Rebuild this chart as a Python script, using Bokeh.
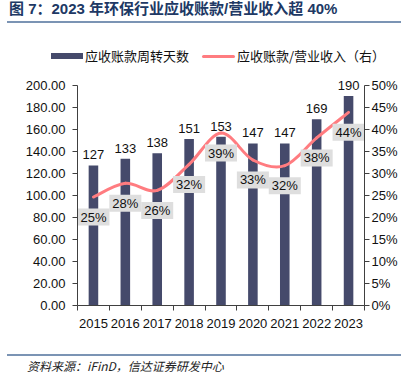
from bokeh.plotting import figure
from bokeh.layouts import column
from bokeh.models import Range1d, LinearAxis, FixedTicker, PrintfTickFormatter, Div
from bokeh.core.properties import value
from bokeh.embed import file_html
from bokeh.resources import INLINE

years = ["2015", "2016", "2017", "2018", "2019", "2020", "2021", "2022", "2023"]
days = [127, 133, 138, 151, 153, 147, 147, 169, 190]
ratio = [24.6, 27.7, 26.1, 32.0, 39.1, 33.0, 31.7, 38.0, 43.8]
left_ticks = [0, 20, 40, 60, 80, 100, 120, 140, 160, 180, 200]
right_ticks = [0, 5, 10, 15, 20, 25, 30, 35, 40, 45, 50]

title_text = "图 7：2023 年环保行业应收账款/营业收入超 40%"
source_text = "资料来源：iFinD，信达证券研发中心"
bar_name = "应收账款周转天数"
line_name = "应收账款/营业收入（右）"

BAR = "#454a6b"
LINE = "#ff7c80"
AX = "#404040"
RULE = "#7b94b4"
LAT = "Liberation Sans"
CJK = "Noto Sans CJK SC"

xs = list(range(len(years)))

# frame: 287 x 239 px; left axis 0..200 occupies the lower 220.5 px
FRAME_H = 239
left_end = 200 * FRAME_H / 220.5
right_end = 50 * FRAME_H / 220.5

p = figure(width=401, height=288, output_backend="svg", toolbar_location=None, title=None,
           x_range=Range1d(-0.5, len(years) - 0.5), y_range=Range1d(0, left_end),
           min_border_left=77, min_border_right=37, min_border_top=0, min_border_bottom=49)
p.extra_y_ranges = {"pct": Range1d(0, right_end)}
p.xgrid.visible = False
p.ygrid.visible = False
p.outline_line_color = None
p.background_fill_color = "white"
p.border_fill_color = "white"

# bars
bars = p.vbar(x=xs, top=days, width=0.3, fill_color=BAR, line_color=None)
p.text(x=xs, y=days, text=[str(d) for d in days], text_align="center", text_baseline="bottom",
       y_offset=-6, text_font=value(LAT), text_font_size="13px", text_color="#111111")

# smoothed line (Catmull-Rom through the data points)
n = len(ratio)
x0, y0, x1, y1, cx0, cy0, cx1, cy1 = [], [], [], [], [], [], [], []
for i in range(n - 1):
    pm = i - 1 if i > 0 else 0
    pp = i + 2 if i + 2 < n else n - 1
    x0.append(xs[i]); y0.append(ratio[i])
    x1.append(xs[i + 1]); y1.append(ratio[i + 1])
    cx0.append(xs[i] + (xs[i + 1] - xs[pm]) / 6.0)
    cy0.append(ratio[i] + (ratio[i + 1] - ratio[pm]) / 6.0)
    cx1.append(xs[i + 1] - (xs[pp] - xs[i]) / 6.0)
    cy1.append(ratio[i + 1] - (ratio[pp] - ratio[i]) / 6.0)
p.bezier(x0=x0, y0=y0, x1=x1, y1=y1, cx0=cx0, cy0=cy0, cx1=cx1, cy1=cy1,
         line_color=LINE, line_width=3, line_cap="round", y_range_name="pct")

# percent labels with gray boxes
p.text(x=xs, y=ratio, text=["%d%%" % round(r) for r in ratio], text_align="center",
       text_baseline="middle", y_offset=20, y_range_name="pct",
       text_font=value(LAT), text_font_size="13px", text_color="#111111",
       background_fill_color="#dedede", padding=(3, 1))

# axes
yl = p.yaxis[0]
yl.ticker = FixedTicker(ticks=left_ticks)
yl.formatter = PrintfTickFormatter(format="%.2f")
yl.major_label_standoff = 7
yl.bounds = (0, 200)

yr = LinearAxis(y_range_name="pct", ticker=FixedTicker(ticks=right_ticks),
                formatter=PrintfTickFormatter(format="%d%%"))
p.add_layout(yr, "right")
yr.major_label_standoff = 2
yr.bounds = (0, 50)

for ax in (yl, yr):
    ax.major_tick_out = 5
    ax.major_tick_in = 0
    ax.minor_tick_out = 0
    ax.minor_tick_in = 0

xa = p.xaxis[0]
xa.ticker = FixedTicker(ticks=xs, minor_ticks=[i - 0.5 for i in range(len(years) + 1)])
xa.major_label_overrides = {i: years[i] for i in xs}
xa.major_tick_out = 0
xa.major_tick_in = 0
xa.minor_tick_out = 5
xa.minor_tick_in = 0
xa.major_label_standoff = 8

for ax in (xa, yl, yr):
    ax.axis_line_color = AX
    ax.major_tick_line_color = AX
    ax.minor_tick_line_color = AX
    ax.major_label_text_font = LAT
    ax.major_label_text_font_size = "13px"
    ax.major_label_text_color = "#111111"

# title, rule and legend block
LEG_TXT = "position:absolute;top:47px;height:18px;line-height:18px;font-family:'Noto Sans CJK SC';font-size:13px;color:#111111;white-space:nowrap;"
top_html = (
    '<div style="position:relative;width:401px;height:66px;overflow:visible;">'
    '<div style="position:absolute;left:9px;top:0px;height:17px;line-height:17px;'
    "font-family:'Liberation Sans','Noto Sans CJK SC';font-weight:bold;font-size:15px;"
    'color:#203864;white-space:nowrap;">' + title_text + '</div>'
    '<div style="position:absolute;left:7px;top:21px;width:394px;height:2px;background:' + RULE + ';"></div>'
    '<div style="position:absolute;left:51px;top:53px;width:32px;height:6px;background:' + BAR + ';"></div>'
    '<div style="' + LEG_TXT + 'left:85px;">' + bar_name + '</div>'
    '<div style="position:absolute;left:202px;top:54.5px;width:33px;height:3px;border-radius:1.5px;background:' + LINE + ';"></div>'
    '<div style="' + LEG_TXT + 'left:237px;">' + line_name + '</div>'
    '</div>'
)
top_div = Div(width=401, height=66, margin=0, text=top_html)

bottom_html = (
    '<div style="position:relative;width:401px;height:25px;">'
    '<div style="position:absolute;left:7px;top:0px;width:394px;height:2px;background:' + RULE + ';"></div>'
    '<div style="position:absolute;left:27px;top:3px;height:18px;line-height:18px;'
    "font-family:'Noto Sans CJK SC';font-style:italic;font-size:12px;color:#222222;"
    'white-space:nowrap;">' + source_text + '</div>'
    '</div>'
)
bottom_div = Div(width=401, height=25, margin=0, text=bottom_html)

layout = column(top_div, p, bottom_div, spacing=0, margin=0)

open("out.html", "w").write(file_html(layout, INLINE))
